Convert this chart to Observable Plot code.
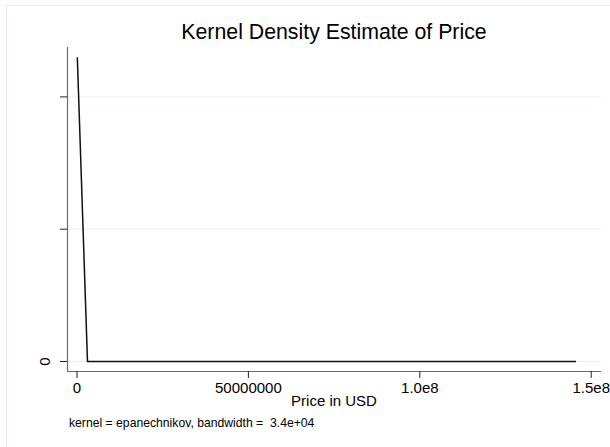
<!DOCTYPE html>
<html>
<head>
<meta charset="utf-8">
<script src="https://cdn.jsdelivr.net/npm/d3@7"></script>
<script src="https://cdn.jsdelivr.net/npm/@observablehq/plot@0.6"></script>
<style>
  html, body { margin: 0; padding: 0; background: #fff; }
  #wrap { position: relative; width: 610px; height: 447px; overflow: hidden; font-family: "Liberation Sans", Arial, Helvetica, sans-serif; }
  #frame { position: absolute; left: 6px; top: 5px; width: 620px; height: 460px; border-left: 1px solid #dde9ee; border-top: 1px solid #dde9ee; box-sizing: border-box; }
  .lbl { position: absolute; white-space: nowrap; color: #000; }
  #title { left: 334px; top: 20px; transform: translateX(-50%); font-size: 21.3px; }
  #xlab { left: 334px; top: 392px; transform: translateX(-50%); font-size: 15px; }
  #note { left: 69px; top: 416px; font-size: 12.2px; }
  #chart { position: absolute; left: 0; top: 0; }
</style>
</head>
<body>
<div id="wrap">
  <div id="frame"></div>
  <div id="chart"></div>
  <div class="lbl" id="title">Kernel Density Estimate of Price</div>
  <div class="lbl" id="xlab">Price in USD</div>
  <div class="lbl" id="note">kernel = epanechnikov, bandwidth =&nbsp; 3.4e+04</div>
</div>
<script>
// Data
const priceUSD = [1.0e5, 3.06e6, 1.454e8];
const density = [2.296e-6, 0, 0];
const xTicks = [0, 50000000, 100000000, 150000000];
const xTickLabels = ["0", "50000000", "1.0e8", "1.5e8"];
const yTicks = [0, 1e-6, 2e-6];
const yLabelTicks = [0];
const yTickLabels = ["0"];

const pts = priceUSD.map((p, i) => ({price: p, density: density[i]}));
const xMin = -2.77e6, xMax = 1.530e8;
const yMin = -0.0756e-6, yMax = 2.3734e-6;

const chart = Plot.plot({
  width: 610,
  height: 447,
  marginLeft: 67,
  marginRight: 9,
  marginTop: 47,
  marginBottom: 76,
  style: {background: "transparent", fontFamily: "'Liberation Sans', Arial, Helvetica, sans-serif", color: "#000"},
  x: {domain: [xMin, xMax]},
  y: {domain: [yMin, yMax]},
  marks: [
    Plot.gridY(yTicks, {stroke: "#e6eff1", strokeOpacity: 1, strokeWidth: 1}),
    Plot.ruleX([xMin], {stroke: "#6b6b6b", strokeWidth: 1.2}),
    Plot.ruleY([yMin], {stroke: "#6b6b6b", strokeWidth: 1.2}),
    Plot.axisX({ticks: xTicks, tickSize: 7, tickPadding: 4, fontSize: 15,
      tickFormat: d => xTickLabels[xTicks.indexOf(d)], label: null, stroke: "#222"}),
    Plot.axisY({ticks: yTicks, tickSize: 7, tickFormat: () => "", label: null, stroke: "#222"}),
    Plot.axisY({ticks: yLabelTicks, tickSize: 0, tickPadding: 22, fontSize: 15, rotate: -90, textAnchor: "middle",
      tickFormat: d => yTickLabels[yLabelTicks.indexOf(d)], label: null}),
    Plot.line(pts, {x: "price", y: "density", stroke: "#111", strokeWidth: 1.5})
  ]
});
document.getElementById("chart").appendChild(chart);
</script>
</body>
</html>
